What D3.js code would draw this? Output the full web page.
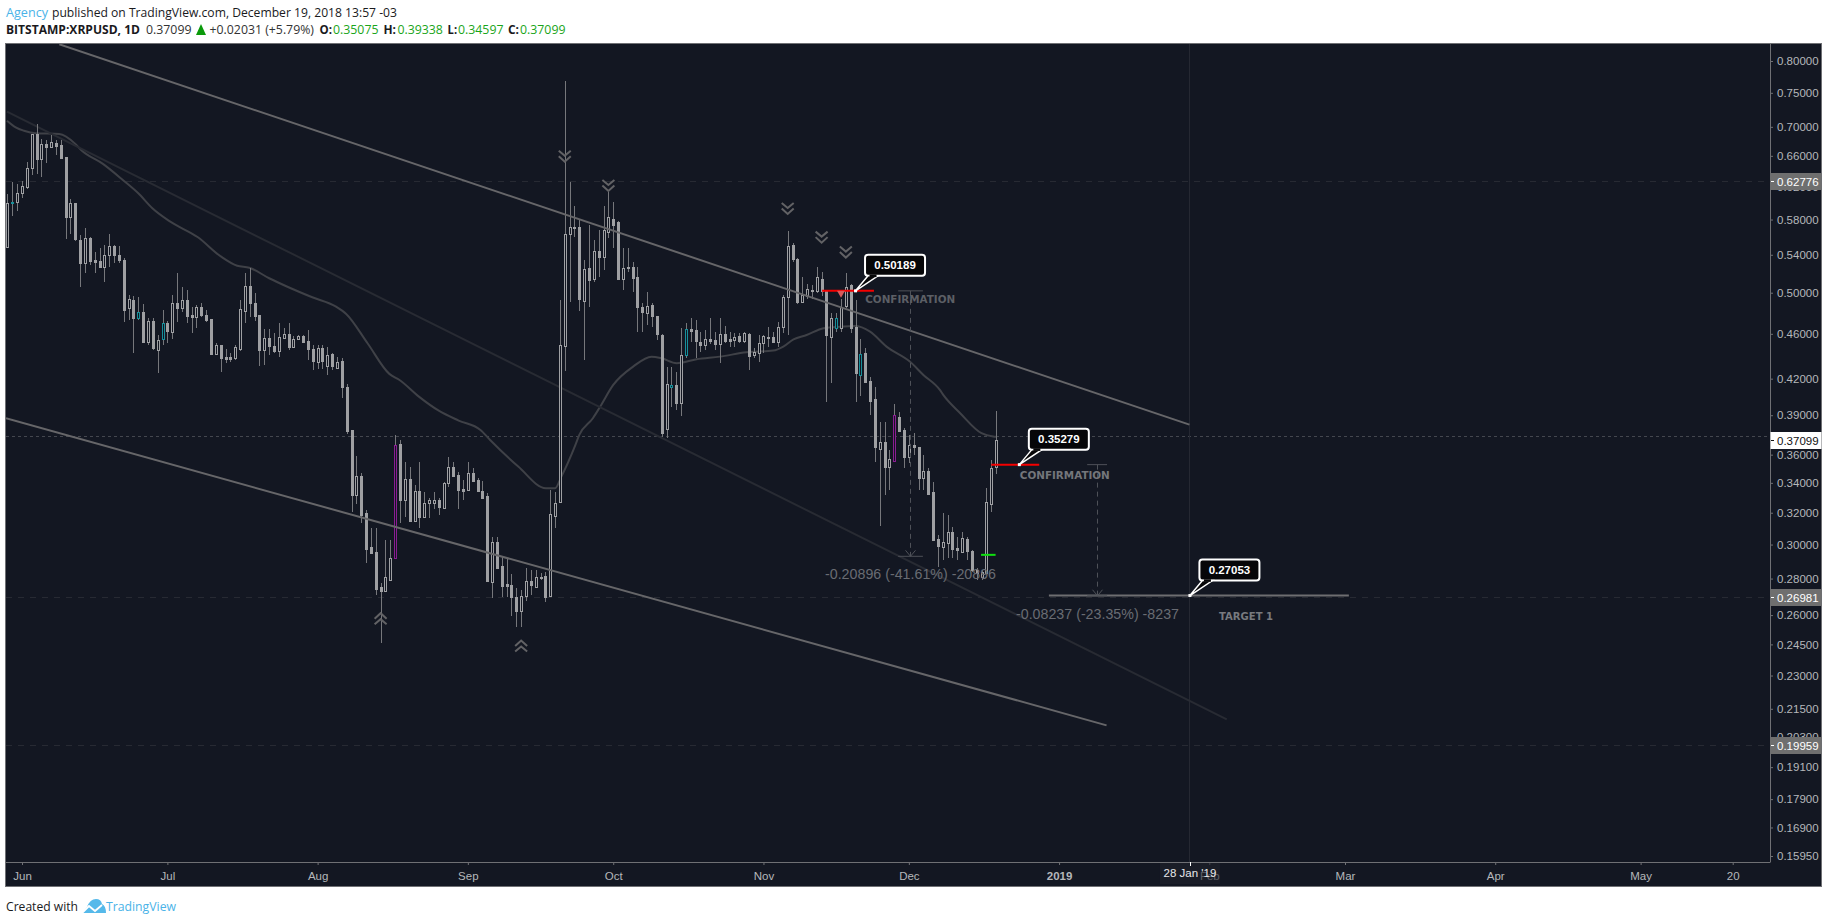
<!DOCTYPE html>
<html><head><meta charset="utf-8">
<style>html,body{margin:0;padding:0;background:#fff;overflow:hidden}svg{display:block}</style>
<script src="https://cdn.jsdelivr.net/npm/d3@7"></script></head>
<body><svg id="c" width="1828" height="924"></svg>
<script>
// Daily candles from 29 May 2018 to 19 Dec 2018 (BITSTAMP:XRPUSD)
const firstCandle = "2018-05-29";
const opens = [
.5486,.6008,.6011,.6120,.6196,.6439,.6899,.6558,.6762,.6720,
.6775,.6747,.6585,.5830,.5999,.5565,.5311,.5588,.5344,.5333,
.5268,.5399,.5498,.5399,.5344,.4848,.4927,.4750,.4809,.4525,
.4721,.4452,.4552,.4702,.4618,.4897,.4848,.4927,.4780,.4760,
.4858,.4780,.4741,.4417,.4498,.4390,.4390,.4381,.4461,.4818,
.5069,.4897,.4780,.4452,.4561,.4488,.4443,.4561,.4599,.4479,
.4552,.4580,.4534,.4461,.4345,.4470,.4310,.4417,.4293,.4354,
.4130,.3785,.3318,.3448,.3199,.2986,.2956,.2754,.2731,.2793,
.2920,.3680,.3284,.3427,.3148,.3345,.3173,.3264,.3264,.3284,
.3231,.3399,.3511,.3455,.3359,.3352,.3469,.3420,.3345,.3311,
.2782,.3017,.2873,.2770,.2765,.2699,.2623,.2704,.2787,.2754,
.2804,.2816,.2704,.3180,.3271,.4488,.5632,.5702,.5713,.4917,
.5257,.5141,.5442,.5377,.5656,.5807,.5772,.5141,.5268,.5268,
.5162,.4858,.4799,.4878,.4770,.4589,.3793,.4130,.4147,.3998,
.4408,.4645,.4636,.4525,.4498,.4552,.4543,.4507,.4599,.4552,
.4543,.4580,.4534,.4599,.4408,.4425,.4516,.4571,.4571,.4525,
.4664,.4957,.5509,.5355,.4907,.4967,.5028,.5018,.5141,.5018,
.4571,.4655,.4655,.4868,.5079,.4664,.4232,.4425,.4181,.4031,
.3642,.3694,.3511,.3555,.3886,.3785,.3584,.3672,.3657,.3434,
.3483,.3338,.3035,.2986,.3011,.3079,.2980,.2956,.3035,.2962,
.2850,.2810,.2833,.3258,.35075];
const highs = [
.6108,.6260,.6234,.6272,.6519,.6899,.7041,.6830,.6816,.6885,
.6816,.6816,.6585,.6047,.5999,.5622,.5702,.5599,.5431,.5475,
.5509,.5633,.5509,.5498,.5366,.4977,.4967,.4957,.4887,.4750,
.4750,.4589,.4828,.4721,.4977,.5204,.5059,.5028,.4858,.4878,
.4897,.4828,.4741,.4516,.4498,.4461,.4425,.4498,.4927,.5204,
.5257,.4997,.4780,.4645,.4645,.4608,.4702,.4655,.4702,.4580,
.4589,.4589,.4636,.4498,.4498,.4498,.4479,.4425,.4390,.4381,
.4155,.3785,.3591,.3469,.3218,.3103,.3103,.2776,.3029,.3029,
.3747,.3709,.3548,.3511,.3386,.3548,.3338,.3297,.3338,.3297,
.3406,.3584,.3548,.3476,.3420,.3548,.3504,.3434,.3413,.3331,
.3048,.3048,.2926,.2920,.2827,.2748,.2737,.2862,.2850,.2850,
.2833,.2839,.3352,.3338,.4927,.7677,.6260,.5962,.5807,.5344,
.5737,.5565,.5679,.5962,.6133,.6011,.5784,.5475,.5475,.5322,
.5268,.4897,.5008,.4897,.4770,.4599,.4301,.4301,.4258,.4655,
.4702,.4750,.4731,.4618,.4636,.4750,.4618,.4750,.4674,.4618,
.4608,.4608,.4618,.4608,.4470,.4589,.4589,.4664,.4618,.4712,
.4977,.5667,.5531,.5366,.5162,.5090,.5080,.5268,.5215,.5028,
.4799,.4799,.4937,.5204,.5090,.4927,.4552,.4470,.4215,.4130,
.3847,.3847,.3635,.3990,.3926,.3800,.3747,.3762,.3657,.3598,
.3504,.3406,.3060,.3199,.3186,.3110,.3048,.3079,.3048,.2968,
.2862,.2850,.3365,.3562,.39338];
const lows = [
.5475,.5842,.5902,.6059,.6170,.6348,.6361,.6323,.6505,.6706,
.6612,.6558,.5576,.5633,.5554,.5059,.5204,.5290,.5204,.5257,
.5110,.5268,.5311,.5311,.4712,.4731,.4425,.4731,.4525,.4498,
.4452,.4249,.4498,.4516,.4552,.4712,.4809,.4702,.4608,.4655,
.4760,.4712,.4408,.4408,.4258,.4336,.4345,.4363,.4443,.4702,
.4760,.4721,.4310,.4319,.4408,.4425,.4390,.4552,.4452,.4470,
.4543,.4516,.4363,.4275,.4284,.4284,.4232,.4275,.4284,.4039,
.3754,.3205,.3257,.3135,.2890,.2950,.2709,.2458,.2731,.2793,
.2914,.3135,.3173,.3142,.3142,.3103,.3167,.3167,.3225,.3186,
.3231,.3372,.3441,.3225,.3284,.3345,.3406,.3338,.3297,.2782,
.2693,.2856,.2699,.2699,.2596,.2539,.2539,.2677,.2710,.2748,
.2793,.2671,.2704,.3103,.3271,.4266,.4907,.5599,.4818,.4363,
.4858,.5110,.5162,.5236,.5588,.5475,.5131,.5028,.5215,.5008,
.4618,.4618,.4684,.4664,.4543,.3732,.3724,.3966,.3942,.3894,
.4381,.4525,.4381,.4434,.4452,.4507,.4452,.4336,.4516,.4479,
.4479,.4516,.4516,.4275,.4381,.4345,.4425,.4479,.4516,.4479,
.4608,.4589,.5322,.4887,.4907,.4937,.4937,.4997,.4967,.4007,
.4164,.4618,.4618,.4848,.4608,.4007,.4056,.4164,.3902,.3548,
.3116,.3318,.3352,.3548,.3770,.3504,.3541,.3598,.3352,.3352,
.3318,.3023,.2867,.2908,.2920,.2920,.2908,.2950,.2908,.2839,
.2793,.2793,.2833,.3205,.34597];
const closes = [
.5998,.6010,.6120,.6209,.6439,.6899,.6558,.6762,.6720,.6789,
.6733,.6571,.5830,.5999,.5576,.5311,.5588,.5333,.5322,.5268,
.5399,.5498,.5399,.5344,.4828,.4937,.4750,.4809,.4525,.4721,
.4470,.4543,.4702,.4627,.4897,.4848,.4927,.4770,.4760,.4858,
.4780,.4731,.4417,.4498,.4381,.4372,.4372,.4479,.4838,.5069,
.4897,.4770,.4452,.4561,.4488,.4443,.4571,.4599,.4479,.4552,
.4580,.4525,.4461,.4354,.4470,.4354,.4408,.4310,.4345,.4130,
.3777,.3318,.3448,.3186,.2974,.2950,.2743,.2731,.2810,.2920,
.3672,.3284,.3427,.3148,.3345,.3173,.3264,.3284,.3284,.3238,
.3399,.3511,.3448,.3352,.3345,.3469,.3413,.3345,.3297,.2787,
.3017,.2862,.2759,.2759,.2699,.2623,.2704,.2787,.2765,.2810,
.2810,.2699,.3192,.3264,.4498,.5632,.5714,.5710,.4937,.5247,
.5131,.5442,.5377,.5679,.5830,.5737,.5141,.5257,.5262,.5152,
.4858,.4809,.4868,.4770,.4599,.3762,.4155,.4147,.3998,.4408,
.4645,.4627,.4534,.4498,.4552,.4534,.4507,.4599,.4534,.4534,
.4571,.4534,.4608,.4399,.4434,.4516,.4580,.4575,.4525,.4664,
.4957,.5498,.5355,.4907,.4977,.5038,.5032,.5162,.5018,.4589,
.4750,.4750,.4858,.5059,.4655,.4249,.4417,.4172,.4015,.3657,
.3694,.3511,.3569,.3902,.3777,.3584,.3672,.3657,.3434,.3483,
.3325,.3029,.2992,.3017,.3079,.2974,.2968,.3041,.2962,.2850,
.2833,.2839,.3271,.3507,.37099];
const tealDates = ["2018-05-30","2018-06-25","2018-06-30","2018-10-13","2018-10-16","2018-11-16","2018-11-21"];
const purpleDates = ["2018-08-17","2018-11-28"];

// Moving average: days since 1 Jun 2018, and price
const maDays = [-3.1,-1.3,.4,2.8,7.7,11,12.2,16.7,20.8,24,26.9,30.6,36.3,41.1,44.4,46.9,51,55,59.9,64.8,66.9,71.3,75.8,77.9,81.9,86,90.1,94.6,96.6,102.4,108.1,110,111.3,114.2,115,117.8,119.3,122,126.1,129.9,132,135.1,139.2,144,149.5,155,157.1,159.2,161.9,165.4,168.8,171.9,175,178.4,183.2,186,189.4,190.1,193.6,198,200.4,201];
const maValues = [.7088,.6993,.6945,.6909,.6900,.6762,.6679,.6493,.6285,.6117,.5934,.5775,.5595,.5379,.5281,.5260,.5149,.5056,.4954,.4861,.4789,.4513,.4241,.4189,.4050,.3936,.3858,.3785,.3709,.3514,.3363,.3363,.3443,.3672,.3747,.3876,.3968,.4147,.4304,.4392,.4377,.4334,.4369,.4392,.4431,.4446,.4482,.4549,.4589,.4652,.4667,.4673,.4620,.4482,.4348,.4232,.4105,.4064,.3916,.3760,.3735,.3733];

// Drawn trend lines: [day, price] end points
const upperChannel = [[7.7,.8276],[240.9,.3826]];
const lowerChannel = [[-3.3,.3876],[223.8,.2079]];
const midChannel = [[-3.1,.7218],[248.6,.2104]];

// Chevrons: day, price
const downChevronDays = [112,121,158,165,170];
const downChevronPrices = [.6589,.6209,.5926,.5591,.5424];
const upChevronDays = [74,103];
const upChevronPrices = [.2584,.2444];

// Axis ticks
const priceTicks = [.8,.75,.7,.66,.62,.58,.54,.5,.46,.42,.39,.36,.34,.32,.3,.28,.26,.245,.23,.215,.203,.191,.179,.169,.1595];
const dateTicks = ["2018-06-01","2018-07-01","2018-08-01","2018-09-01","2018-10-01","2018-11-01","2018-12-01","2019-01-01","2019-02-01","2019-03-01","2019-04-01","2019-05-01","2019-05-20"];
const dateLabels = ["Jun","Jul","Aug","Sep","Oct","Nov","Dec","2019","Feb","Mar","Apr","May","20"];
const priceBadges = [.62776,.26981,.19959];
const lastPrice = .37099;
const lastPriceLine = .3736;
const crosshairDate = "2019-01-28";
const crosshairLabel = "28 Jan '19";

// Levels
const redLevels = [[165.1,175.8,.50189],[200,209.9,.35279]];
const greenLevel = [197.9,200.9,.2938];
const targetLevel = [211.9,273.8,.27053];
const callouts = [[172,.50189,"0.50189"],[205.8,.35279,"0.35279"],[241,.27053,"0.27053"]];
const measures = [[183.3,180.8,185.9,.50189,.29293,.2827,"-0.20896 (-41.61%) -20896",171],[221.9,219.8,223.9,.35279,.27042,.2603,"-0.08237 (-23.35%) -8237",163]];
const notes = [[174,.4936,"CONFIRMATION","#5c5f65",90],[205.9,.3448,"CONFIRMATION","#74767b",90],[247,.2592,"TARGET 1","#787a7f",54]];

const BG="#131722", FRAME="#6f7074", AXT="#b5b7bb";
const svg=d3.select("#c");
const parse=d3.utcParse("%Y-%m-%d");
const x=d3.scaleUtc().domain([parse("2018-06-01"),parse("2019-03-01")]).range([22,1345]);
const y=d3.scaleLog().domain([.8,.1595]).range([61,856]);
const origin=+parse("2018-06-01");
const dx=d=>x(new Date(origin+d*864e5));
const plotL=6,plotR=1770,plotT=44,plotB=862;

svg.append("rect").attr("x",5.5).attr("y",43.5).attr("width",1816).attr("height",843).attr("fill",BG).attr("stroke",FRAME);
svg.append("defs").append("clipPath").attr("id","plot").append("rect").attr("x",plotL).attr("y",plotT).attr("width",plotR-plotL).attr("height",plotB-plotT);
const g=svg.append("g").attr("clip-path","url(#plot)");

// horizontal reference lines
priceBadges.forEach(p=>g.append("line").attr("x1",plotL).attr("x2",plotR).attr("y1",Math.round(y(p))+.5).attr("y2",Math.round(y(p))+.5).attr("stroke","#272a33").attr("stroke-dasharray","6 6"));
g.append("line").attr("x1",plotL).attr("x2",plotR).attr("y1",Math.round(y(lastPriceLine))+.5).attr("y2",Math.round(y(lastPriceLine))+.5).attr("stroke","#44474f").attr("stroke-dasharray","3 3");
const cx=Math.round(x(parse(crosshairDate)))-.5;
g.append("line").attr("x1",cx).attr("x2",cx).attr("y1",plotT).attr("y2",plotB).attr("stroke","#252832");

// moving average
const maData=d3.zip(maDays,maValues);
g.append("path").attr("d",d3.line().x(d=>dx(d[0])).y(d=>y(d[1])).curve(d3.curveMonotoneX)(maData)).attr("fill","none").attr("stroke","#3f4147").attr("stroke-width",2);

// mid channel under candles
const seg=(a,stroke,w)=>g.append("line").attr("x1",dx(a[0][0])).attr("y1",y(a[0][1])).attr("x2",dx(a[1][0])).attr("y2",y(a[1][1])).attr("stroke",stroke).attr("stroke-width",w);
seg(midChannel,"#282b33",2);

// candles
const candles=opens.map((o,i)=>({date:d3.utcDay.offset(parse(firstCandle),i),o,h:highs[i],l:lows[i],c:closes[i]}));
const fmt=d3.utcFormat("%Y-%m-%d");
const GREY="#9fa0a3";
const colorOf=d=>{const s=fmt(d.date);return tealDates.includes(s)?"#178f9a":purpleDates.includes(s)?"#8a1c92":GREY};
const cg=g.append("g");
const px=d=>Math.round(x(d.date));
cg.selectAll("line").data(candles).join("line")
 .attr("x1",d=>px(d)+.5).attr("x2",d=>px(d)+.5).attr("y1",d=>y(d.h)).attr("y2",d=>y(d.l))
 .attr("stroke","#76777b").attr("stroke-width",1).attr("shape-rendering","crispEdges");
cg.selectAll("rect").data(candles).join("rect")
 .attr("x",d=>px(d)-.5).attr("width",2)
 .attr("y",d=>Math.round(y(Math.max(d.o,d.c)))+.5)
 .attr("height",d=>Math.max(1,Math.round(y(Math.min(d.o,d.c)))-Math.round(y(Math.max(d.o,d.c)))))
 .attr("fill",d=>d.c>=d.o?BG:GREY).attr("stroke",colorOf).attr("stroke-width",1).attr("shape-rendering","crispEdges");

// trend lines
seg(upperChannel,"#666669",2);
seg(lowerChannel,"#666669",2);

// chevrons
const chev=(dd,pp,up)=>dd.forEach((d,i)=>{
  const s=up?-1:1;
  g.append("path").attr("transform",`translate(${dx(d)},${y(pp[i])}) scale(1,${s})`)
   .attr("d","M-6,-6L0,-1L6,-6M-6,-.5L0,5L6,-.5").attr("fill","none").attr("stroke","#626265").attr("stroke-width",2);
});
chev(downChevronDays,downChevronPrices,false);
chev(upChevronDays,upChevronPrices,true);

// levels
const hl=(a,c,w)=>g.append("line").attr("x1",dx(a[0])).attr("x2",dx(a[1])).attr("y1",y(a[2])).attr("y2",y(a[2])).attr("stroke",c).attr("stroke-width",w);
redLevels.forEach(a=>hl(a,"#f40000",2));
hl(greenLevel,"#10e010",2);
hl(targetLevel,"#6e6e71",2);
g.append("path").attr("transform",`translate(${dx(169)},${y(.50189)})`).attr("d","M-4,0L4,0L0,7Z").attr("fill","#d85a5a");

// measures
measures.forEach(m=>{
  const [d,d0,d1,p0,p1,pt,label,len]=m;
  const X=Math.round(dx(d))+.5;
  g.append("line").attr("x1",X).attr("x2",X).attr("y1",y(p0)).attr("y2",y(p1)).attr("stroke","#4e5158").attr("stroke-dasharray","5 4");
  [p0,p1].forEach(p=>g.append("line").attr("x1",dx(d0)).attr("x2",dx(d1)).attr("y1",y(p)).attr("y2",y(p)).attr("stroke","#4e5158"));
  g.append("path").attr("d",`M${X-5},${y(p1)-6}L${X},${y(p1)}L${X+5},${y(p1)-6}`).attr("fill","none").attr("stroke","#4e5158");
  g.append("text").attr("x",X).attr("y",y(pt)).attr("dy",".35em").attr("text-anchor","middle").attr("font-family","'Liberation Sans',Arial,sans-serif").attr("font-size",14).attr("fill","#696c73").attr("textLength",len).attr("lengthAdjust","spacingAndGlyphs").text(label);
});

// note labels
notes.forEach(n=>g.append("text").attr("x",dx(n[0])).attr("y",y(n[1])).attr("dy",".35em").attr("font-family","'DejaVu Sans',sans-serif").attr("font-weight",700).attr("font-size",10).attr("fill",n[3]).attr("textLength",n[4]).attr("lengthAdjust","spacingAndGlyphs").text(n[2]));

// callouts
callouts.forEach(c=>{
  const ax=dx(c[0]),ay=y(c[1]);
  const bx=ax+9.5,by=ay-36;
  const h=g.append("g");
  h.append("rect").attr("x",bx).attr("y",by).attr("width",60).attr("height",21).attr("rx",3).attr("fill","#060608").attr("stroke","#fff").attr("stroke-width",2);
  h.append("path").attr("d",`M${ax},${ay}L${bx+3},${by+21}L${bx+13},${by+21}Z`).attr("fill","#060608").attr("stroke","#fff").attr("stroke-width",1.5);
  h.append("line").attr("x1",bx+4.5).attr("x2",bx+11.5).attr("y1",by+21).attr("y2",by+21).attr("stroke","#060608").attr("stroke-width",2.5);
  h.append("rect").attr("x",ax-1.5).attr("y",ay-1.5).attr("width",3).attr("height",3).attr("fill","#fff");
  h.append("text").attr("x",bx+30).attr("y",by+10.5).attr("dy",".35em").attr("text-anchor","middle").attr("font-family","'Liberation Sans',Arial,sans-serif").attr("font-weight",700).attr("font-size",11.5).attr("fill","#fff").text(c[2]);
});

// right axis
svg.append("line").attr("x1",plotR+.5).attr("x2",plotR+.5).attr("y1",44).attr("y2",plotB+.5).attr("stroke",FRAME);
const ya=svg.append("g").attr("transform",`translate(${plotR},0)`).call(d3.axisRight(y).tickValues(priceTicks).tickFormat(d3.format(".5f")).tickSize(3).tickPadding(4));
ya.select(".domain").remove();
ya.selectAll("line").attr("stroke","#6f7074");
ya.selectAll("text").attr("font-family","'Liberation Sans',Arial,sans-serif").attr("font-size",11.5).attr("fill",AXT);

// bottom axis
svg.append("line").attr("x1",6).attr("x2",plotR).attr("y1",plotB+.5).attr("y2",plotB+.5).attr("stroke",FRAME);
const xa=svg.append("g").attr("transform",`translate(0,${plotB})`).call(d3.axisBottom(x).tickValues(dateTicks.map(parse)).tickFormat((d,i)=>dateLabels[i]).tickSize(3).tickPadding(7));
xa.select(".domain").remove();
xa.selectAll("line").attr("stroke","#6f7074");
xa.selectAll("text").attr("font-family","'Liberation Sans',Arial,sans-serif").attr("font-size",11.5).attr("fill",AXT).attr("font-weight",(d,i)=>dateLabels[i]==="2019"?700:400);

// crosshair label
svg.append("rect").attr("x",x(parse(crosshairDate))-30).attr("y",863).attr("width",60).attr("height",21).attr("fill","#1f222c").attr("fill-opacity",.6);
svg.append("line").attr("x1",cx+1).attr("x2",cx+1).attr("y1",862).attr("y2",866).attr("stroke","#fff");
svg.append("text").attr("x",x(parse(crosshairDate))).attr("y",873).attr("dy",".35em").attr("text-anchor","middle").attr("font-family","'Liberation Sans',Arial,sans-serif").attr("font-size",11.5).attr("fill","#e8e8ea").text(crosshairLabel);

// price badges
const badge=(p,bg,fg)=>{
  const Y=Math.round(y(p));
  svg.append("rect").attr("x",plotR+.5).attr("y",Y-8).attr("width",51).attr("height",17).attr("fill",bg);
  svg.append("line").attr("x1",plotR+1).attr("x2",plotR+4).attr("y1",Y+.5).attr("y2",Y+.5).attr("stroke",fg);
  svg.append("text").attr("x",plotR+7).attr("y",Y+.5).attr("dy",".35em").attr("font-family","'Liberation Sans',Arial,sans-serif").attr("font-size",11.5).attr("fill",fg).text(d3.format(".5f")(p));
};
priceBadges.forEach(p=>badge(p,"#6f6f6f","#fff"));
badge(lastPrice,"#ffffff","#111");

// header
const T=(X,Y,s,o={})=>{const t=svg.append("text").attr("x",X).attr("y",Y).attr("dy",".35em").attr("font-family","'Open Sans','Noto Sans',sans-serif").attr("font-size",o.size||13).attr("font-weight",o.w||400).attr("fill",o.c||"#1a1a1d").text(s);
 if(o.len)t.attr("textLength",o.len).attr("lengthAdjust","spacingAndGlyphs");return t;};
const BLUE="#4ab3e8",GREEN="#1aa51a";
T(6,12.5,"Agency",{c:BLUE,len:42});
T(52,12.5,"published on TradingView.com, December 19, 2018 13:57 -03",{len:345});
T(6,29.5,"BITSTAMP:XRPUSD, 1D",{w:700,len:134});
T(146,29.5,"0.37099",{c:"#333",len:45.5});
svg.append("path").attr("d","M196,35L206,35L201,24Z").attr("fill","#0a9a0a");
T(209.5,29.5,"+0.02031 (+5.79%)",{c:"#333",len:104.5});
[[319.5,"O:",12.5,333,"0.35075"],[383.5,"H:",12.5,397.4,"0.39338"],[447.6,"L:",9.5,458,"0.34597"],[508,"C:",11,520,"0.37099"]].forEach(r=>{
  T(r[0],29.5,r[1],{w:700,len:r[2]});
  T(r[3],29.5,r[4],{c:GREEN,len:45.5});
});

// footer
T(6,906,"Created with",{len:72,size:13.5});
const logo=svg.append("g").attr("transform","translate(82,899)");
logo.append("path").attr("d","M0,14L5,8Q8,0 14,0Q19,0 20,5Q24,7 24,14Z").attr("fill","#55b9ea");
logo.append("path").attr("d","M0,14L7,7L13,12L20,6").attr("fill","none").attr("stroke","#fff").attr("stroke-width",1.8);
T(106,906,"TradingView",{c:BLUE,len:70,size:13.5});
</script></body></html>
